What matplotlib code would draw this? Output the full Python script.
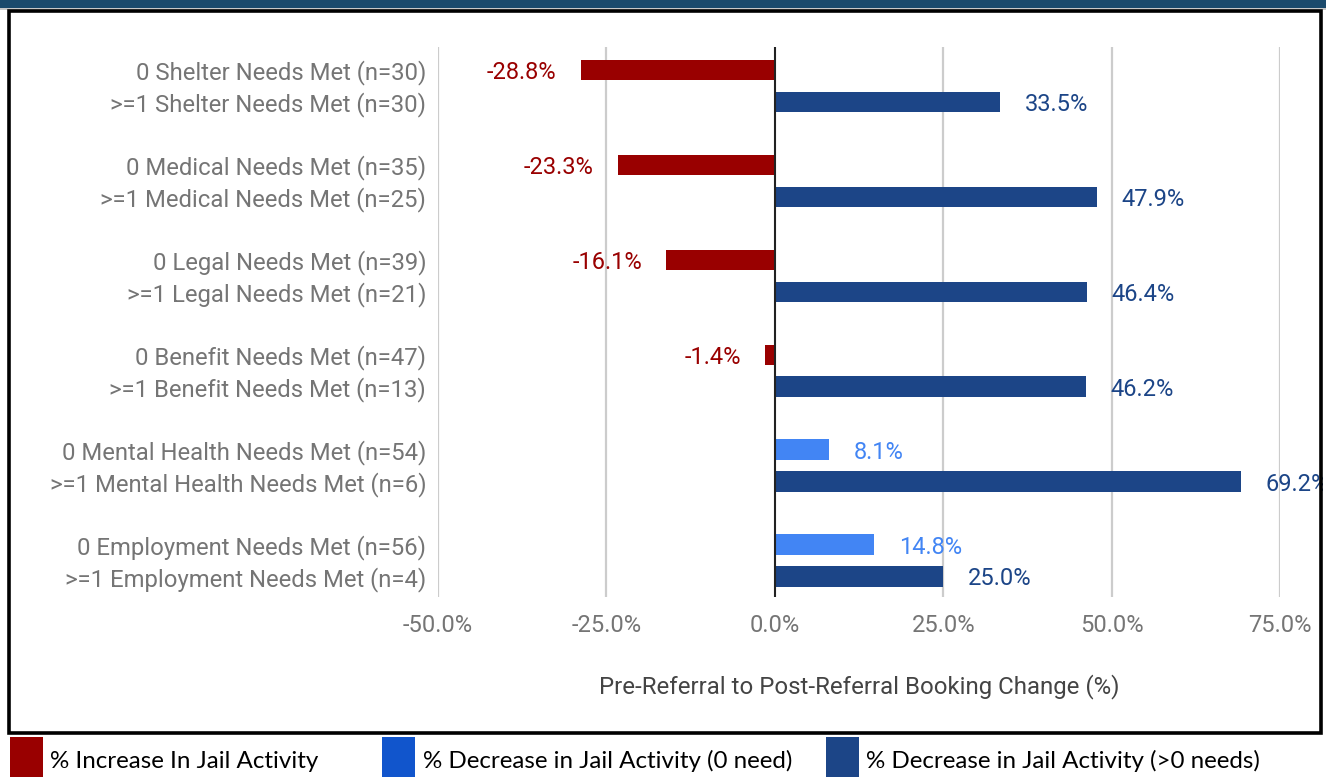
import matplotlib
matplotlib.use("Agg")
import matplotlib.pyplot as plt
from matplotlib.patches import Rectangle

# ---- data ----
groups = ["Shelter", "Medical", "Legal", "Benefit", "Mental Health", "Employment"]
zero_labels = ["0 Shelter Needs Met (n=30)", "0 Medical Needs Met (n=35)", "0 Legal Needs Met (n=39)",
               "0 Benefit Needs Met (n=47)", "0 Mental Health Needs Met (n=54)", "0 Employment Needs Met (n=56)"]
one_labels = [">=1 Shelter Needs Met (n=30)", ">=1 Medical Needs Met (n=25)", ">=1 Legal Needs Met (n=21)",
              ">=1 Benefit Needs Met (n=13)", ">=1 Mental Health Needs Met (n=6)", ">=1 Employment Needs Met (n=4)"]
zero_values = [-28.8, -23.3, -16.1, -1.4, 8.1, 14.8]
one_values = [33.5, 47.9, 46.4, 46.2, 69.2, 25.0]
x_ticks = [-50, -25, 0, 25, 50, 75]
x_label = "Pre-Referral to Post-Referral Booking Change (%)"
legend_labels = ["% Increase In Jail Activity", "% Decrease in Jail Activity (0 need)",
                 "% Decrease in Jail Activity (>0 needs)"]

RED = "#990000"
LBLUE = "#4285f4"
DBLUE = "#1c4587"
GRAY = "#757575"

W, H = 1326, 777
fig = plt.figure(figsize=(W / 100, H / 100), dpi=100)
fig.patch.set_facecolor("white")

ax = fig.add_axes([438 / W, 1 - 597 / H, 842 / W, 550 / H])

off = 0.168
bh = 0.215
for i in range(len(groups)):
    v0 = zero_values[i]
    c0 = RED if v0 < 0 else LBLUE
    ax.barh(i - off, v0, height=bh, color=c0, zorder=3)
    ax.annotate(f"{v0:.1f}%", (v0, i - off), xytext=(-17.5 if v0 < 0 else 17.5, 0),
                textcoords="offset points", ha="right" if v0 < 0 else "left", va="center_baseline",
                color=c0, fontsize=17, family="Roboto", zorder=4, annotation_clip=False)
    v1 = one_values[i]
    ax.barh(i + off, v1, height=bh, color=DBLUE, zorder=3)
    ax.annotate(f"{v1:.1f}%", (v1, i + off), xytext=(17.5, 0),
                textcoords="offset points", ha="left", va="center_baseline",
                color=DBLUE, fontsize=17, family="Roboto", zorder=4, annotation_clip=False)

ax.set_xlim(-50, 75)
ax.set_ylim(5.385, -0.411)

yt, yl = [], []
for i in range(len(groups)):
    yt += [i - off, i + off]
    yl += [zero_labels[i], one_labels[i]]
ax.set_yticks(yt)
ax.set_yticklabels(yl, family="Roboto", fontsize=17.2, color=GRAY, va="center_baseline")
ax.set_xticks(x_ticks)
ax.set_xticklabels([f"{t:.1f}%" for t in x_ticks], family="Roboto", fontsize=17, color=GRAY)
ax.tick_params(axis="y", length=0, pad=8.5)
ax.tick_params(axis="x", length=0, pad=12)

for t in x_ticks:
    if t != 0:
        ax.axvline(t, color="#cccccc", lw=1.6, zorder=1)
ax.axvline(0, color="#222222", lw=1.5, zorder=4)
for s in ax.spines.values():
    s.set_visible(False)

ax.set_xlabel(x_label, family="Roboto", fontsize=17.3, color="#444444", labelpad=27)

# header band & frame
fig.add_artist(Rectangle((0, 1 - 8 / H), 1, 8 / H, transform=fig.transFigure,
                         facecolor="#1b4a6c", edgecolor="none", zorder=10))
fig.add_artist(Rectangle((0, 1 - 10 / H), 1, 2 / H, transform=fig.transFigure,
                         facecolor="#c8c8c8", edgecolor="none", zorder=10))
fig.add_artist(Rectangle((9 / W, 1 - 733 / H), (1321 - 9) / W, (733 - 11) / H,
                         transform=fig.transFigure, fill=False, lw=2.6, edgecolor="black", zorder=10))
# white cover beyond right border (clips the 69.2% label like the original)
fig.add_artist(Rectangle((1322.5 / W, 0), 5 / W, 1 - 10 / H, transform=fig.transFigure,
                         facecolor="white", edgecolor="none", zorder=9))

# legend below frame
leg_colors = [RED, "#1155cc", DBLUE]
sq_x = [10, 382, 826]
tx_x = [50, 423, 866]
for c, sx, tx, lab in zip(leg_colors, sq_x, tx_x, legend_labels):
    fig.add_artist(Rectangle((sx / W, 0), 33 / W, (777 - 737) / H, transform=fig.transFigure,
                             facecolor=c, edgecolor="none", zorder=10))
    fig.text(tx / W, 1 - 761 / H, lab, ha="left", va="center", fontsize=17.4,
             family="Lato", color="black")

fig.savefig("out.png", dpi=100)
